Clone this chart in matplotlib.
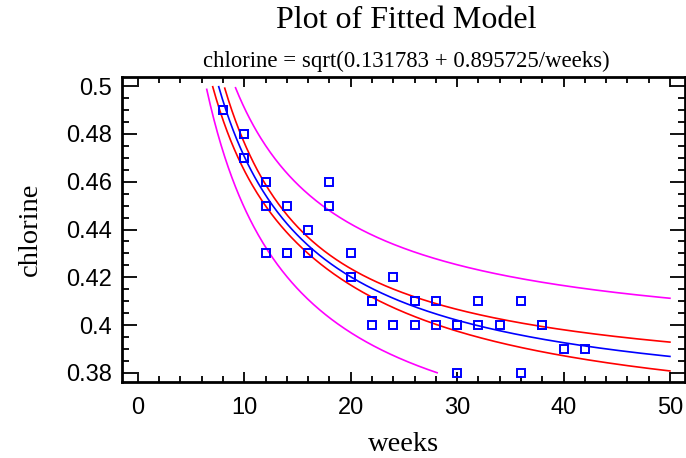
import numpy as np
import matplotlib
matplotlib.use("Agg")
import matplotlib.pyplot as plt
from matplotlib.ticker import MultipleLocator

# chlorine data (weeks, chlorine), duplicates kept for the fit
weeks = np.array([8, 8, 10, 10, 10, 10, 12, 12, 12, 12, 14, 14, 14, 16, 16, 16,
                  18, 18, 20, 20, 20, 22, 22, 22, 24, 24, 24, 26, 26, 26, 28, 28,
                  30, 30, 30, 32, 32, 34, 36, 36, 38, 38, 40, 42], dtype=float)
chlorine = np.array([0.49, 0.49, 0.48, 0.47, 0.48, 0.47, 0.46, 0.46, 0.45, 0.43,
                     0.45, 0.43, 0.43, 0.44, 0.43, 0.43, 0.46, 0.45, 0.42, 0.42,
                     0.43, 0.41, 0.41, 0.40, 0.42, 0.40, 0.40, 0.41, 0.40, 0.41,
                     0.41, 0.40, 0.40, 0.40, 0.38, 0.41, 0.40, 0.40, 0.41, 0.38,
                     0.40, 0.40, 0.39, 0.39])

title = "Plot of Fitted Model"
subtitle = "chlorine = sqrt(0.131783 + 0.895725/weeks)"
t_crit = 2.018  # t(0.975, 42 df)

# fit chlorine^2 = a + b/weeks
X = np.column_stack([np.ones_like(weeks), 1.0 / weeks])
Y = chlorine ** 2
beta, *_ = np.linalg.lstsq(X, Y, rcond=None)
resid = Y - X @ beta
n = len(Y)
s2 = resid @ resid / (n - 2)
XtXinv = np.linalg.inv(X.T @ X)

xg = np.linspace(5, 50, 400)
Xg = np.column_stack([np.ones_like(xg), 1.0 / xg])
yfit = Xg @ beta
lev = np.einsum("ij,jk,ik->i", Xg, XtXinv, Xg)
se_conf = np.sqrt(s2 * lev)
se_pred = np.sqrt(s2 * (1 + lev))


def tr(v):
    v = np.sqrt(np.clip(v, 0, None))
    v[(v > 0.5) | (v < 0.38)] = np.nan
    return v


fig = plt.figure(figsize=(6.86, 4.58), dpi=100)
ax = fig.add_axes([0.1778, 0.1659, 0.8205, 0.666])

ax.plot(xg, tr(yfit + t_crit * se_pred), color="#ff00ff", lw=1.2)
ax.plot(xg, tr(yfit - t_crit * se_pred), color="#ff00ff", lw=1.2)
ax.plot(xg, tr(yfit + t_crit * se_conf), color="#ff0000", lw=1.2)
ax.plot(xg, tr(yfit - t_crit * se_conf), color="#ff0000", lw=1.2)
ax.plot(xg, tr(yfit), color="#0000ff", lw=1.2)
ax.plot(weeks, chlorine, ls="none", marker="s", ms=5.2, mfc="none",
        mec="#0000ff", mew=1.4)

ax.set_xlim(-1.5, 51.4)
ax.set_ylim(0.3762, 0.5038)
ax.xaxis.set_major_locator(MultipleLocator(10))
ax.xaxis.set_minor_locator(MultipleLocator(2))
ax.yaxis.set_major_locator(MultipleLocator(0.02))
ax.yaxis.set_minor_locator(MultipleLocator(0.005))
ax.set_yticks([0.38, 0.40, 0.42, 0.44, 0.46, 0.48, 0.50],
              ["0.38", "0.4", "0.42", "0.44", "0.46", "0.48", "0.5"])
ax.tick_params(axis="both", which="both", direction="in", top=True, right=True,
               labelsize=17, width=1.3, colors="black")
ax.tick_params(axis="x", which="major", length=7, pad=11)
ax.tick_params(axis="x", which="minor", length=4)
ax.tick_params(axis="y", which="major", length=11, pad=7)
ax.tick_params(axis="y", which="minor", length=5)
for lab in ax.get_xticklabels() + ax.get_yticklabels():
    lab.set_family("Liberation Sans")
for sp in ax.spines.values():
    sp.set_linewidth(2)

serif = "Liberation Serif"
ax.set_xlabel("weeks", family=serif, fontsize=20.5, labelpad=9)
ax.set_ylabel("chlorine", family=serif, fontsize=20.5, labelpad=17)
fig.text(0.592, 0.955, title, family=serif, fontsize=23, ha="center", va="center")
fig.text(0.592, 0.865, subtitle, family=serif, fontsize=16.4, ha="center",
         va="center")

fig.savefig("out.png", dpi=100)
